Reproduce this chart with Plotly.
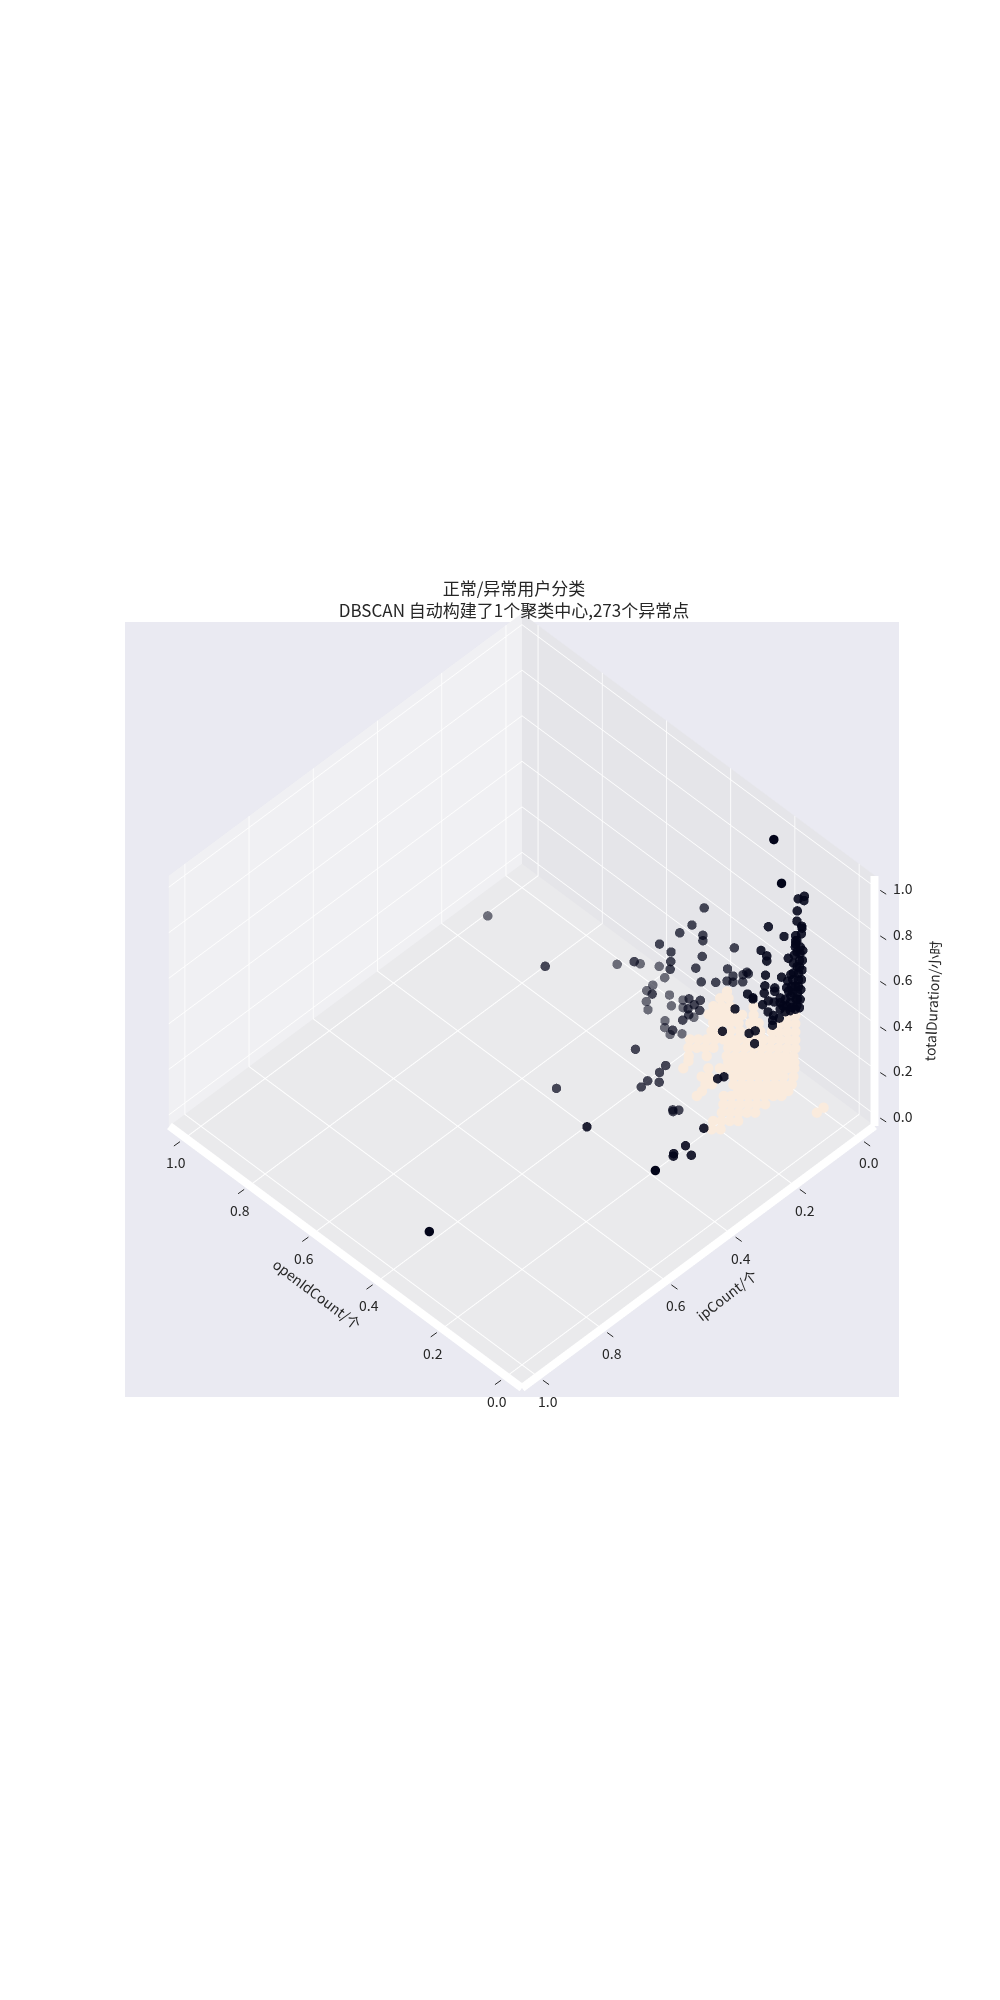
import plotly.graph_objects as go

# normal users (label 0), row by row
normal_open_id = [
    .362, .383, .357, .404, .378, .352, .279, .419, .393, .367, .341, .315, .279, .149, .17,
    .396, .378, .352, .326, .289, .263, .149, .175, .196,
    .381, .368, .352, .321, .289, .258, .149, .175, .201, .222,
    .397, .384, .371, .358, .345, .333, .322, .3, .274, .248, .222, .196, .17, .149,
    .382, .369, .356, .343, .32, .307, .294, .279, .253, .227, .201, .175, .149,
    .364, .336, .305, .292, .279, .266, .253, .233, .206, .181, .155, .354,
    .29, .277, .264, .251, .238, .225, .201, .175, .152,
    .347, .308, .29, .277, .264, .251, .238, .225, .212, .199, .175, .152,
    .301, .29, .251, .238, .225, .212, .2, .187, .174, .155,
    .279, .269, .235, .222, .209, .196, .183, .17, .157, .144,
    .27, .214, .2, .188, .175, .162, .149, .136,
    .268, .226, .214, .2, .188, .175, .162, .149, .136,
    .209, .196, .183, .17, .157, .144,
    .194, .181, .168, .155, .142,
    .19, .177, .164, .151,
    .175, .161,
    .046, .046,
]
normal_ip = [
    0, 0, 0, 0, 0, 0, 0, 0, 0, 0, 0, 0, 0, 0, 0,
    .009, 0, 0, 0, 0, 0, 0, 0, 0,
    .029, .016, 0, 0, 0, 0, 0, 0, 0, 0,
    .08, .067, .054, .041, .028, .016, .005, 0, 0, 0, 0, 0, 0, 0,
    .1, .087, .074, .061, .038, .025, .012, 0, 0, 0, 0, 0, 0,
    .117, .089, .058, .045, .032, .019, .006, 0, 0, 0, 0, .128,
    .068, .055, .042, .029, .016, .003, 0, 0, 0,
    .151, .112, .094, .081, .068, .055, .042, .029, .016, .003, 0, 0,
    .14, .129, .09, .077, .064, .051, .039, .026, .013, 0,
    .15, .14, .107, .094, .081, .068, .055, .042, .029, .016,
    .17, .113, .1, .087, .074, .061, .048, .035,
    .188, .146, .134, .12, .108, .095, .082, .069, .056,
    .164, .151, .138, .125, .112, .099,
    .184, .171, .158, .145, .132,
    .215, .202, .189, .176,
    .235, .221,
    .036, .015,
]
normal_duration = [
    .163, .112, .139, .055, .081, .108, .183, .003, .03, .057, .083, .11, .147, .281, .259,
    0, .009, .036, .063, .101, .128, .245, .218, .197,
    0, 0, 0, .032, .065, .097, .209, .182, .155, .134,
    0, 0, 0, 0, 0, 0, 0, .017, .044, .071, .098, .125, .151, .173,
    0, 0, 0, 0, 0, 0, 0, .003, .03, .057, .083, .11, .137,
    0, 0, 0, 0, 0, 0, 0, .014, .042, .068, .095, 0,
    0, 0, 0, 0, 0, 0, .022, .048, .072,
    0, 0, 0, 0, 0, 0, 0, 0, 0, 0, .022, .046,
    0, 0, 0, 0, 0, 0, 0, 0, 0, .006,
    0, 0, 0, 0, 0, 0, 0, 0, 0, 0,
    0, 0, 0, 0, 0, 0, 0, 0,
    0, 0, 0, 0, 0, 0, 0, 0, 0,
    0, 0, 0, 0, 0, 0,
    0, 0, 0, 0, 0,
    0, 0, 0, 0,
    0, 0,
    0, 0,
]

# anomalies (label -1), split by how faded depthshade leaves them
faint_open_id = [.83, .528, .474, .406, .46, .374, .374, .43, .417, .459, .445, .401, .456, .364, .381, .404, .416, .349]
faint_ip = [.277, .176, .158, .135, .153, .125, .125, .143, .139, .153, .148, .134, .152, .138, .158, .152, .139, .116]
faint_duration = [.295, .293, .333, .243, .177, .244, .211, .352, .312, .226, .259, .2, .144, .12, .12, .12, .124, .185]

mid_open_id = [
    .325, .353, .382, .328, .328, .429, .254, .402, .329, .488, .403, .404, .344, .27, .332, .298, .272, .257,
    .257, .235, .234, .225, .221, .446, .36, .362, .334, .348, .335, .361, .375, .386, .696, .404, .445,
    .323, .318, .319, .298, .316, .219, .215, .209,
]
mid_ip = [
    .108, .118, .127, .109, .109, .143, .085, .134, .11, .163, .134, .135, .115, .09, .11, .099, .09, .086,
    .086, .078, .078, .075, .074, .149, .12, .121, .111, .116, .112, .12, .125, .145, .232, .243, .448,
    .23, .254, .29, .275, .313, .312, .315, .303,
]
mid_duration = [
    .682, .588, .533, .56, .536, .451, .557, .435, .467, .333, .392, .358, .405, .453, .352, .374, .398, .431,
    .404, .42, .453, .47, .466, .22, .259, .214, .27, .241, .226, .187, .155, .12, .167, .12, .12,
    .12, .12, .12, .12, .12, .12, .12, .12,
]

dark_open_id = [
    .109, .126, .11, .129, .13, .116, .115, .21, .117, .166, .133, .133, .133,
    .121, .121, .122, .122, .125, .125, .125, .128, .128, .13,
    .134, .149, .162, .176, .14, .141, .144, .156, .158, .147, .149, .162, .158, .137, .13, .13, .134, .131,
    .23, .214, .214, .154, .14, .218, .173, .221, .22, .192, .192, .21, .226, .194, .176, .176,
    .211, .195, .198, .198, .179, .268, .253, .253, .303,
    .216, .222, .218, .268, .2, .194, .132, .124, .126, .121, .095, .317,
    .113, .114, .115, .117, .119, .121, .122, .141, .153, .147, .169, .144, .134, .13,
]
dark_ip = [
    .012, .014, .012, .014, .014, .013, .013, .023, .013, .018, .015, .015, .015,
    .013, .013, .014, .014, .014, .014, .014, .014, .014, .014,
    .015, .016, .018, .02, .015, .016, .016, .017, .018, .016, .016, .018, .018, .015, .014, .014, .015, .015,
    .026, .024, .024, .017, .015, .024, .019, .025, .024, .021, .021, .023, .025, .021, .02, .02,
    .023, .022, .022, .022, .02, .03, .028, .028, .034,
    .06, .071, .056, .108, .191, .177, .302, .367, .402, .408, .378, .481,
    .013, .013, .013, .013, .013, .013, .014, .016, .017, .016, .019, .016, .015, .014,
]
dark_duration = [
    .859, .832, .839, .776, .73, .721, .714, .631, .687, .629, .664, .642, .627,
    .625, .596, .566, .537, .506, .477, .448, .418, .389, .358,
    .34, .319, .303, .302, .493, .463, .431, .443, .412, .386, .355, .358, .333, .575, .595, .53, .441, .385,
    .509, .5, .477, .545, .536, .411, .444, .33, .362, .379, .364, .305, .274, .315, .351, .33,
    .256, .256, .231, .21, .259, .282, .279, .274, .184,
    .15, .2, .2, .2, .15, .15, .12, .12, .12, .12, .12, .12,
    .618, .573, .53, .486, .44, .395, .358, .405, .402, .48, .322, .338, .613, .645,
]

solid_open_id = [.208, .173, .343, .119]
solid_ip = [.008, .019, .946, .466]
solid_duration = [1.0, .856, .12, .12]

tick_vals = [0.0, 0.2, 0.4, 0.6, 0.8, 1.0]
tick_text = ['0.0', '0.2', '0.4', '0.6', '0.8', '1.0']
edge_lo = -0.05
edge_hi = 1.05
# axis lines sit a hair inside the range or the clip box eats them
line_lo = -0.049
line_hi = 1.049

text_color = '#262626'
font_name = 'Noto Sans CJK SC'
normal_color = '#FAEBDD'
anomaly_color = '#03051A'
label_font = dict(family=font_name, size=14, color=text_color)


def axis_style(bg):
    return dict(
        title=dict(text=''), range=[edge_lo, edge_hi],
        tickmode='array', tickvals=tick_vals, ticktext=tick_text,
        showticklabels=False, ticks='',
        showgrid=True, gridcolor='#ffffff', gridwidth=2,
        showline=False, zeroline=False, showspikes=False,
        showbackground=True, backgroundcolor=bg,
    )


def points(xs, ys, zs, color, opacity, size):
    return go.Scatter3d(x=xs, y=ys, z=zs, mode='markers', hoverinfo='skip',
                        marker=dict(size=size, color=color, opacity=opacity, line=dict(width=0)))


def edge(xs, ys, zs):
    return go.Scatter3d(x=xs, y=ys, z=zs, mode='lines', hoverinfo='skip',
                        line=dict(color='#ffffff', width=16))


def tick_mark(x, y, z, ax, ay):
    return dict(x=x, y=y, z=z, text=' ', showarrow=True, arrowhead=0, arrowwidth=1,
                arrowcolor=text_color, ax=ax, ay=ay, standoff=6, font=label_font)


fig = go.Figure()
fig.add_trace(points(normal_open_id, normal_ip, normal_duration, normal_color, 1, 6))
fig.add_trace(points(faint_open_id, faint_ip, faint_duration, anomaly_color, 0.55, 5.5))
fig.add_trace(points(mid_open_id, mid_ip, mid_duration, anomaly_color, 0.72, 5.5))
fig.add_trace(points(dark_open_id, dark_ip, dark_duration, anomaly_color, 0.88, 5.5))
fig.add_trace(points(solid_open_id, solid_ip, solid_duration, anomaly_color, 1, 5.5))

# plotly puts the z axis on the left from this angle, so lines and ticks are drawn by hand
fig.add_trace(edge([line_lo, line_hi], [line_hi, line_hi], [line_lo, line_lo]))
fig.add_trace(edge([line_lo, line_lo], [line_lo, line_hi], [line_lo, line_lo]))
fig.add_trace(edge([line_lo, line_lo], [line_lo, line_lo], [line_lo, line_hi]))

notes = []
for val, txt in zip(tick_vals, tick_text):
    notes.append(dict(x=val, y=edge_hi, z=edge_lo, text=txt, showarrow=False, xshift=-9, yshift=-24, font=label_font))
    notes.append(dict(x=edge_lo, y=val, z=edge_lo, text=txt, showarrow=False, xshift=10, yshift=-24, font=label_font))
    notes.append(dict(x=edge_lo, y=edge_lo, z=val, text=txt, showarrow=False, xshift=28, yshift=-1, font=label_font))
    notes.append(tick_mark(val, edge_hi, edge_lo, -14, 10))
    notes.append(tick_mark(edge_lo, val, edge_lo, 14, 10))
    notes.append(tick_mark(edge_lo, edge_lo, val, 14, 9))
notes.append(dict(x=0.5, y=edge_hi, z=edge_lo, text='openIdCount/个', showarrow=False, xshift=-28, yshift=-37,
                  textangle=37, font=label_font))
notes.append(dict(x=edge_lo, y=0.5, z=edge_lo, text='ipCount/个', showarrow=False, xshift=28, yshift=-38,
                  textangle=-38, font=label_font))
notes.append(dict(x=edge_lo, y=edge_lo, z=0.5, text='totalDuration/小时', showarrow=False, xshift=57, yshift=0,
                  textangle=-87, font=label_font))

fig.update_layout(
    width=1000, height=2000,
    margin=dict(l=0, r=0, t=0, b=0),
    paper_bgcolor='#ffffff',
    showlegend=False,
    hovermode=False,
    title=dict(text='正常/异常用户分类<br>DBSCAN 自动构建了1个聚类中心,273个异常点',
               x=0.506, xanchor='center', y=0.7067, yanchor='top',
               font=dict(family=font_name, size=17, color=text_color)),
    shapes=[dict(type='rect', xref='paper', yref='paper', layer='below',
                 x0=0.117, x1=0.891, y0=0.3055, y1=0.693,
                 fillcolor='#EAEAF2', line=dict(width=0))],
    scene=dict(
        domain=dict(x=[0.028, 1], y=[0.007, 1]),
        aspectmode='manual', aspectratio=dict(x=0.503, y=0.503, z=0.377),
        xaxis=axis_style('#F0F0F3'), yaxis=axis_style('#E5E5E9'), zaxis=axis_style('#EAEAEC'),
        annotations=notes,
        camera=dict(eye=dict(x=-1.42, y=1.42, z=2.23), center=dict(x=0, y=0, z=0),
                    up=dict(x=0, y=0, z=1), projection=dict(type='orthographic')),
    ),
)

fig.write_html('out.html')
